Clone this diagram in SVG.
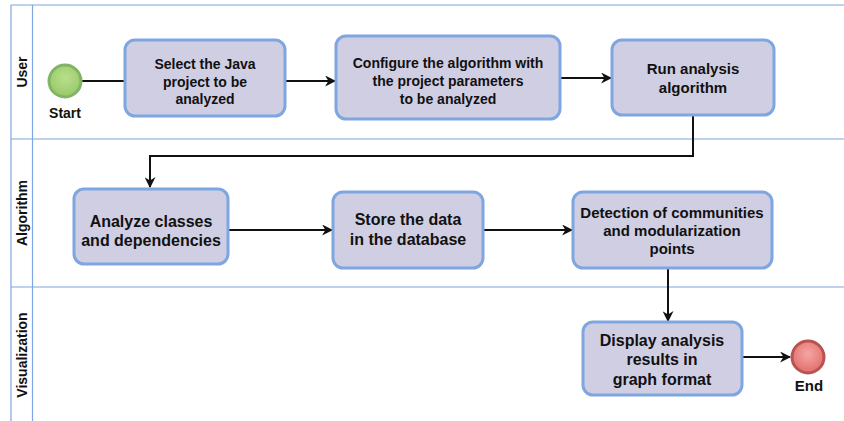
<svg xmlns="http://www.w3.org/2000/svg" width="844" height="421" viewBox="0 0 844 421">
  <style>
    .lane { stroke: #7ea6e0; stroke-width: 1.2; fill: none; }
    .lanelabel { font-family: "Liberation Sans", Arial, sans-serif; font-weight: bold; font-size: 14px; fill: #111; text-anchor: middle; }
    .task rect { fill: #d0cee2; stroke: #7ea6e0; stroke-width: 3; }
    .task text, .evlabel { font-family: "Liberation Sans", Arial, sans-serif; font-weight: bold; font-size: 14px; fill: #111; text-anchor: middle; }
    .task.f15 text { font-size: 15px; }
    .task.f16 text { font-size: 16px; }
    .edge { stroke: #111; stroke-width: 2; fill: none; marker-end: url(#arrow); }
  </style>
  <defs>
    <marker id="arrow" viewBox="0 0 10 10" refX="9" refY="5" markerWidth="5.5" markerHeight="5.5" markerUnits="strokeWidth" orient="auto">
      <path d="M0,0 L10,5 L0,10 L3,5 z" fill="#111"/>
    </marker>
    <radialGradient id="gStart" cx="50%" cy="40%" r="60%">
      <stop offset="0" stop-color="#b9df8e"/>
      <stop offset="1" stop-color="#97c966"/>
    </radialGradient>
    <radialGradient id="gEnd" cx="50%" cy="40%" r="60%">
      <stop offset="0" stop-color="#f6a6a4"/>
      <stop offset="1" stop-color="#e06e6b"/>
    </radialGradient>
  </defs>

  <rect width="844" height="421" fill="#ffffff"/>

  <!-- swimlanes -->
  <g id="lanes">
    <line class="lane" x1="11" y1="5" x2="844" y2="5"/>
    <line class="lane" x1="11" y1="5" x2="11" y2="421"/>
    <line class="lane" x1="32.5" y1="5" x2="32.5" y2="421"/>
    <line class="lane" x1="11" y1="139" x2="844" y2="139"/>
    <line class="lane" x1="11" y1="287" x2="844" y2="287"/>
    <text class="lanelabel" transform="translate(27,72) rotate(-90)">User</text>
    <text class="lanelabel" transform="translate(27,213) rotate(-90)">Algorithm</text>
    <text class="lanelabel" transform="translate(27,355) rotate(-90)">Visualization</text>
  </g>

  <!-- connectors -->
  <g id="connectors">
    <line class="edge" x1="82" y1="81" x2="124" y2="81" style="marker-end:none"/>
    <line class="edge" x1="285" y1="81" x2="335" y2="81"/>
    <line class="edge" x1="560" y1="78" x2="611" y2="78"/>
    <polyline class="edge" points="693,115 693,156 150,156 150,187"/>
    <line class="edge" x1="228" y1="230" x2="332" y2="230"/>
    <line class="edge" x1="483" y1="230" x2="572" y2="230"/>
    <line class="edge" x1="668" y1="268" x2="668" y2="321"/>
    <line class="edge" x1="742" y1="357" x2="790" y2="357"/>
  </g>

  <!-- start event -->
  <g id="start">
    <circle cx="65" cy="81" r="16" fill="url(#gStart)" stroke="#82b366" stroke-width="3"/>
    <text class="evlabel" x="65" y="118">Start</text>
  </g>

  <!-- tasks -->
  <g id="select-project" class="task">
    <rect x="125" y="40" width="160" height="76" rx="10"/>
    <text x="205" y="69">Select the Java</text>
    <text x="205" y="87">project to be</text>
    <text x="205" y="104">analyzed</text>
  </g>

  <g id="configure" class="task">
    <rect x="336" y="36" width="224" height="83" rx="10"/>
    <text x="448" y="68">Configure the algorithm with</text>
    <text x="448" y="86">the project parameters</text>
    <text x="448" y="104">to be analyzed</text>
  </g>

  <g id="run-analysis" class="task f15">
    <rect x="612" y="40" width="162" height="75" rx="10"/>
    <text x="693" y="73.5">Run analysis</text>
    <text x="693" y="92.5">algorithm</text>
  </g>

  <g id="analyze-classes" class="task f16">
    <rect x="74" y="189" width="154" height="75" rx="10"/>
    <text x="151" y="227">Analyze classes</text>
    <text x="151" y="246">and dependencies</text>
  </g>

  <g id="store-data" class="task f16">
    <rect x="333" y="192" width="150" height="76" rx="10"/>
    <text x="408" y="225">Store the data</text>
    <text x="408" y="245">in the database</text>
  </g>

  <g id="detect-communities" class="task f15">
    <rect x="573" y="192" width="199" height="76" rx="10"/>
    <text x="672" y="217.5">Detection of communities</text>
    <text x="672" y="235.5">and modularization</text>
    <text x="672" y="253.5">points</text>
  </g>

  <g id="display-results" class="task f16">
    <rect x="583" y="322" width="159" height="73" rx="10"/>
    <text x="662" y="346">Display analysis</text>
    <text x="662" y="365">results in</text>
    <text x="662" y="385">graph format</text>
  </g>

  <!-- end event -->
  <g id="end">
    <circle cx="808" cy="357" r="16" fill="url(#gEnd)" stroke="#b85450" stroke-width="3"/>
    <text class="evlabel" x="809" y="391" style="font-size:15px">End</text>
  </g>
</svg>
